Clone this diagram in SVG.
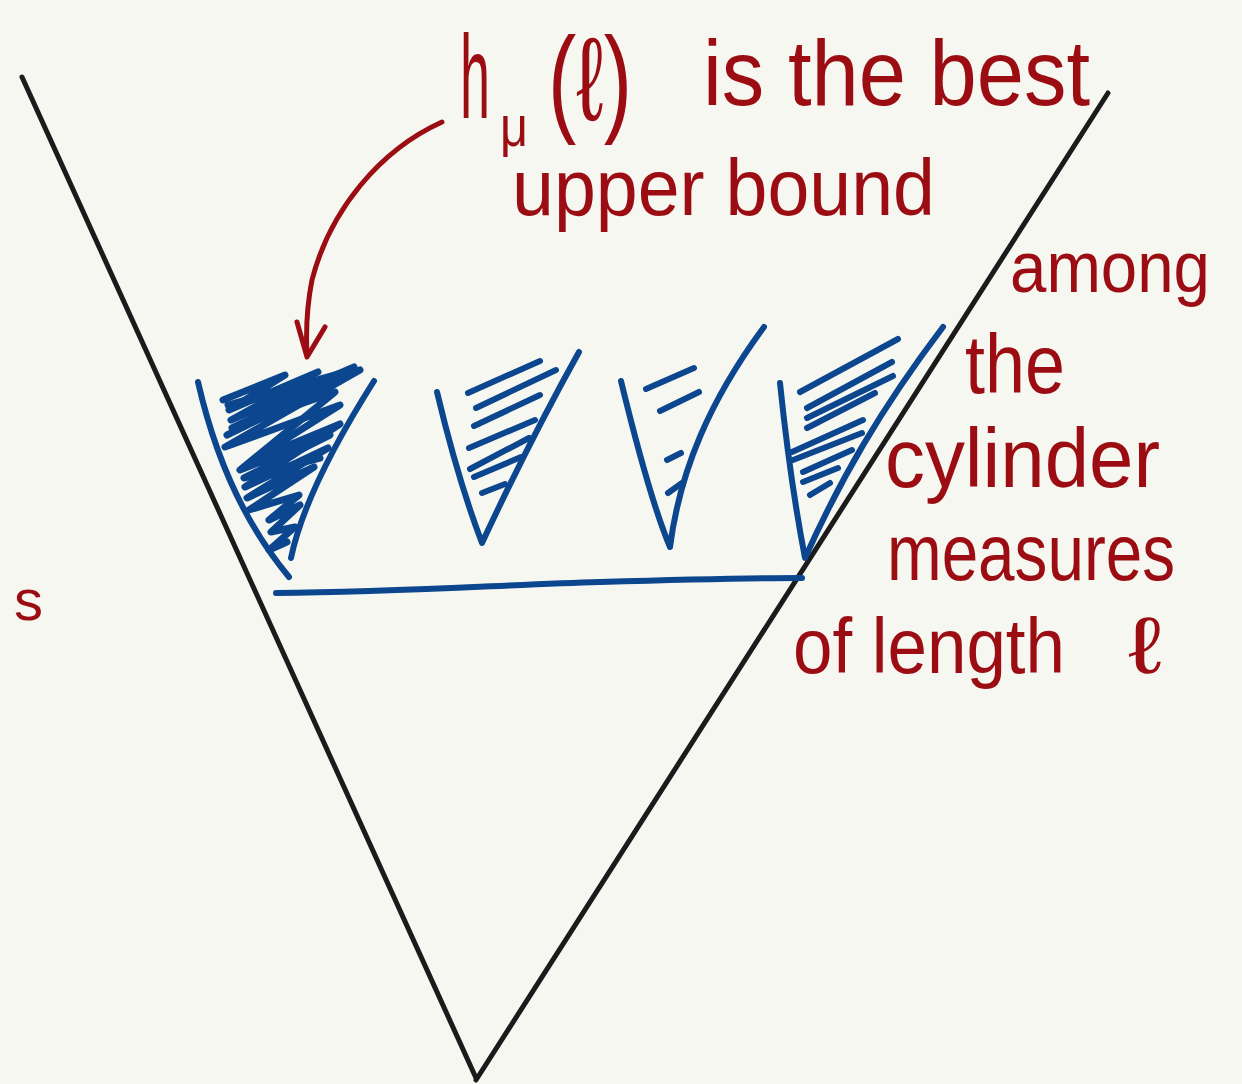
<svg xmlns="http://www.w3.org/2000/svg" width="1242" height="1084" viewBox="0 0 1242 1084">
<style>
.ink{fill:none;stroke-linecap:round;stroke-linejoin:round}
.k{stroke:#1b1b1b;stroke-width:5}
.b{stroke:#0c468e;stroke-width:6}
.r{stroke:#9b0c13;stroke-width:5}
.t{font-family:"Liberation Sans","DejaVu Sans",sans-serif;fill:#9b0c13}
</style>
<rect width="1242" height="1084" fill="#f6f7f1"/>
<g id="big-cone" class="ink k">
<path d="M22,77 L476,1078"/>
<path d="M1108,93 L476,1080"/>
</g>
<g id="cone1" class="ink b">
<path d="M198,382 Q225,500 289,577"/>
<path d="M374,381 Q305,490 291,558"/>
<path stroke-width="7" d="M223,400 L285,375 L229,410 L318,372 L231,420 L354,367 L227,435 L360,370 L225,447 L340,405 L253,460 L340,424 L245,487 L328,448 L247,498 L314,467 L249,510 L299,495 L269,520 L300,505 L271,532 L295,527 L269,550 L287,542"/>
<path stroke-width="7" d="M228,405 L345,372 L232,428 L335,392 L240,470 L330,435 L244,478 L320,458"/>
</g>
<g id="cone2" class="ink b">
<path d="M437,392 Q458,480 482,543 Q530,440 579,352"/>
<path d="M468,393 L540,361 M476,408 L556,370 M474,426 L540,395 M469,448 L535,420 M470,469 L529,438 M474,477 L521,457 M482,493 L505,484"/>
</g>
<g id="cone3" class="ink b">
<path d="M621,381 Q650,500 670,547 C680,470 710,400 764,327"/>
<path d="M646,389 L694,368 M660,411 L699,392 M667,460 L681,453 M668,493 L682,483"/>
</g>
<g id="cone4" class="ink b">
<path d="M780,383 Q790,480 805,558 C840,480 880,410 943,327"/>
<path d="M800,392 L898,339 M807,408 L892,362 M807,418 L893,376 M807,428 L875,393 M792,452 L863,420 M793,460 L862,433 M803,472 L852,450 M803,482 L838,468 M810,495 L830,483"/>
</g>
<g id="base" class="ink b">
<path d="M276,593 C400,592 500,585 600,582 S760,578 802,578"/>
</g>
<g id="connectors" class="ink r">
<path d="M442,122 C380,150 330,210 312,280 C306,310 306,335 307,355"/>
<path d="M297,322 L307,357 L325,327"/>
</g>
<g id="labels">
<text class="t" x="460" y="118" font-size="118"><tspan textLength="30" lengthAdjust="spacingAndGlyphs">h</tspan><tspan x="500" y="146" font-size="58" textLength="28" lengthAdjust="spacingAndGlyphs">μ</tspan><tspan x="548" y="120" textLength="84" lengthAdjust="spacingAndGlyphs">(ℓ)</tspan></text>
<text class="t" x="703" y="105" font-size="92" textLength="387" lengthAdjust="spacingAndGlyphs">is the best</text>
<text class="t" x="512" y="215" font-size="80" textLength="423" lengthAdjust="spacingAndGlyphs">upper bound</text>
<text class="t" x="1010" y="292" font-size="72" textLength="200" lengthAdjust="spacingAndGlyphs">among</text>
<text class="t" x="965" y="393" font-size="83" textLength="100" lengthAdjust="spacingAndGlyphs">the</text>
<text class="t" x="885" y="487" font-size="83" textLength="275" lengthAdjust="spacingAndGlyphs">cylinder</text>
<text class="t" x="887" y="580" font-size="80" textLength="288" lengthAdjust="spacingAndGlyphs">measures</text>
<text class="t" x="793" y="673" font-size="78" textLength="272" lengthAdjust="spacingAndGlyphs">of length</text>
<text class="t" x="1128" y="673" font-size="80" textLength="34" lengthAdjust="spacingAndGlyphs">ℓ</text>
<text class="t" x="14" y="620" font-size="58">s</text>
</g>
</svg>
